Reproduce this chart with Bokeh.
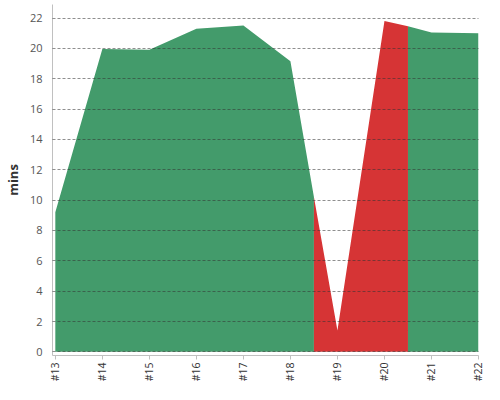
import math
from bokeh.plotting import figure
from bokeh.models import Range1d, FixedTicker
from bokeh.embed import file_html
from bokeh.resources import INLINE

# ---- data ----
labels = ["#13", "#14", "#15", "#16", "#17", "#18", "#19", "#20", "#21", "#22"]
label_pos = [13, 14, 15, 16, 17, 18, 19, 20, 21, 22]

green_a_x = [13, 14, 15, 16, 17, 18, 18.5]
green_a_y = [9.2, 19.95, 19.9, 21.3, 21.5, 19.15, 10.2]

red_x = [18.5, 19, 20, 20.5]
red_y = [10.2, 1.4, 21.8, 21.45]

green_b_x = [20.5, 21, 22]
green_b_y = [21.45, 21.05, 21.0]

y_ticks = [0, 2, 4, 6, 8, 10, 12, 14, 16, 18, 20, 22]

GREEN = "#439b6b"
RED = "#d63435"
FONT = "Open Sans"

p = figure(width=484, height=384, output_backend="svg", toolbar_location=None,
           x_range=Range1d(12.94, 22.0), y_range=Range1d(-0.24, 22.89),
           min_border_left=0, min_border_right=6, min_border_top=4, min_border_bottom=0)

p.varea(x=green_a_x, y1=0, y2=green_a_y, fill_color=GREEN, fill_alpha=1)
p.varea(x=red_x, y1=0, y2=red_y, fill_color=RED, fill_alpha=1)
p.varea(x=green_b_x, y1=0, y2=green_b_y, fill_color=GREEN, fill_alpha=1)

p.outline_line_color = None
p.background_fill_color = "white"
p.border_fill_color = "white"

p.xgrid.grid_line_color = None
p.ygrid.ticker = FixedTicker(ticks=y_ticks)
p.ygrid.grid_line_color = "#333333"
p.ygrid.grid_line_alpha = 0.55
p.ygrid.grid_line_dash = "3 2"
p.ygrid.grid_line_width = 1
p.ygrid.level = "overlay"

xa = p.xaxis[0]
xa.ticker = FixedTicker(ticks=label_pos)
xa.major_label_overrides = {pos: lab for pos, lab in zip(label_pos, labels)}
xa.major_label_orientation = math.pi / 2
xa.major_label_text_font = FONT
xa.major_label_text_font_size = "10.5px"
xa.major_label_text_color = "#333333"
xa.axis_line_color = "#c0c0c0"
xa.major_tick_line_color = "#c0c0c0"
xa.major_tick_out = 4
xa.major_tick_in = 0
xa.minor_tick_line_color = None
xa.major_label_standoff = 3

ya = p.yaxis[0]
ya.ticker = FixedTicker(ticks=y_ticks)
ya.axis_label = "mins"
ya.axis_label_text_font = FONT
ya.axis_label_text_font_size = "13px"
ya.axis_label_text_font_style = "bold"
ya.axis_label_text_color = "#333333"
ya.axis_label_standoff = 5
ya.major_label_text_font = FONT
ya.major_label_text_font_size = "11px"
ya.major_label_text_color = "#555555"
ya.axis_line_color = "#c0c0c0"
ya.major_tick_line_color = None
ya.minor_tick_line_color = None
ya.major_label_standoff = 4

open("out.html", "w").write(file_html(p, INLINE))
